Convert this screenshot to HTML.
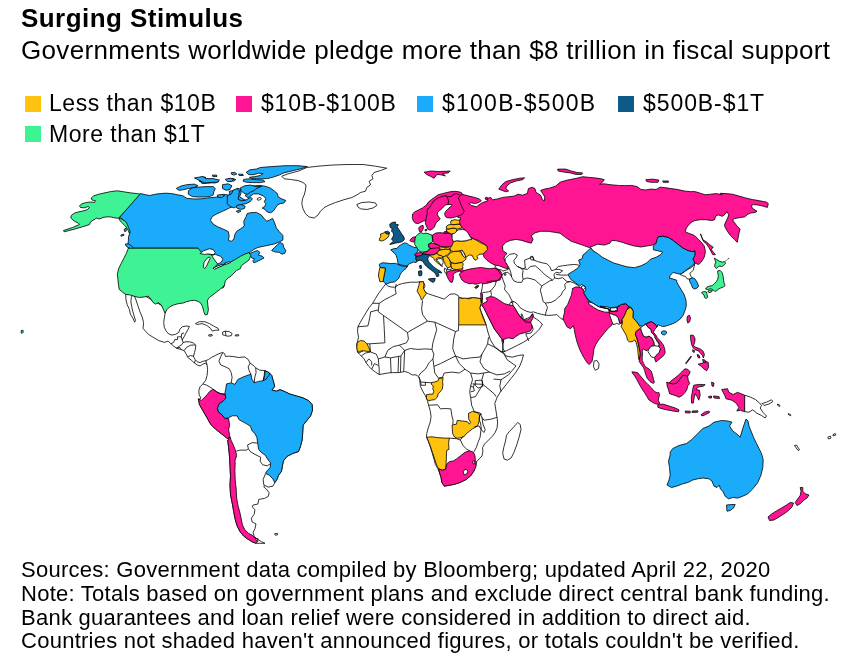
<!DOCTYPE html>
<html><head><meta charset="utf-8">
<style>
html,body{margin:0;padding:0;background:#fff;}
body{width:852px;height:663px;position:relative;overflow:hidden;font-family:"Liberation Sans",Arial,Helvetica,sans-serif;color:#000;}
.t{position:absolute;white-space:nowrap;left:21px;}
#title{top:3.5px;font-size:26px;letter-spacing:0.45px;font-weight:bold;line-height:28px;}
#sub{top:35.5px;font-size:26px;letter-spacing:0.32px;line-height:28px;}
.lg{position:absolute;white-space:nowrap;font-size:23px;line-height:26px;}
.sw{position:absolute;width:16px;height:16px;}
.ft{position:absolute;left:21px;white-space:nowrap;font-size:22px;line-height:24px;letter-spacing:0.26px;}
#map{position:absolute;left:0;top:0;}
</style></head><body>
<div class="t" id="title">Surging Stimulus</div>
<div class="t" id="sub">Governments worldwide pledge more than $8 trillion in fiscal support</div>

<div class="sw" style="left:25px;top:96px;background:#ffc20f"></div><div class="lg" id="l1" style="letter-spacing:0.53px;left:49px;top:90px">Less than $10B</div>
<div class="sw" style="left:236px;top:96px;background:#ff1493"></div><div class="lg" id="l2" style="letter-spacing:0.78px;left:261px;top:90px">$10B-$100B</div>
<div class="sw" style="left:417px;top:96px;background:#1aabfa"></div><div class="lg" id="l3" style="letter-spacing:1.25px;left:442px;top:90px">$100B-$500B</div>
<div class="sw" style="left:618px;top:96px;background:#0e5a87"></div><div class="lg" id="l4" style="letter-spacing:0.92px;left:643px;top:90px">$500B-$1T</div>
<div class="sw" style="left:25px;top:126px;background:#3df394"></div><div class="lg" id="l5" style="letter-spacing:0.51px;left:49px;top:121px">More than $1T</div>

<svg id="map" width="852" height="663" viewBox="0 0 852 663">
<!--MAP--><g stroke="#000" stroke-width="0.8" stroke-linejoin="round">
<path fill="#ffffff" d="M494.7,265.1L496,267.9L497.9,269.8L491.3,274.5L483.6,282L482.6,283.4L482.2,287.8L481.2,292.7L481.9,302.7L483.1,303.5L481.7,305L484.1,308.4L486.1,312.4L488.5,317.3L490.5,321.2L492.5,325.1L494.4,329L497.4,332.9L500.3,336.9L502.7,339.8L503.7,342.7L501.7,339.5L502.6,344.2L503,348L502.2,351.8L506.4,350.8L512,348L517.7,345.2L523.3,342.3L529,338.6L534.7,333.9L539.4,329.2L542.2,324.4L542.5,324.6L539.5,321.2L536.6,319.2L533.6,317.3L532.6,313.8L529.7,317.3L523.8,319.7L522.4,319.2L521.4,317.3L521.1,314.3L521.9,313.8L522.8,316.3L523.3,318.7L519.9,316.3L517.9,313.3L515,308.4L513,305.5L512.5,303L511.1,302.1L512.1,301.1L515,302.1L517.9,304.5L519.9,307.5L522.8,309.4L526.8,311.4L530.7,312.4L533.6,311.9L537.5,313.3L541.5,314.3L545,315.1L545.3,315.3L551.1,315.3L556.8,314.6L559.7,317.4L562.6,319.6L571.2,317.4L582.6,300.2L588.4,283L591.2,268.7L597,257.2L590.8,247.9L585.1,238.6L555.7,227.2L533.1,229.1L525.5,236.6L504.8,238.5L499.2,247.9L499.2,259.2L495.4,263Z"/>
<path fill="#ffffff" d="M385.8,283.9L387.7,285.9L390.5,286.9L394.5,287.3L398.4,284.8L402.4,283.5L410.3,282.2L416.9,282.2L420.7,281.6L423.9,282.9L425,286.3L423.5,289.1L425.4,292.3L428.2,293.8L432.9,295.4L438.6,297.2L444.2,299.1L447.1,296.7L449.9,294.2L454.6,293.8L458.4,295.7L459.3,297.6L465,298.7L472.5,297.6L480.6,298.6L481.2,303.3L479.7,308L481.5,312.7L483.8,318.3L486.1,324.8L487.6,331L490.4,339.8L494.2,346.1L499.8,350.8L503,352.2L506,356L512.2,357.2L518.5,355.5L523.5,354.8L522.2,359.8L519.8,366L516,372.2L511,378.5L506,384.8L501,391L497.2,397.2L494.8,403.5L496,411L497.2,418.5L497.6,422.1L497.1,427.8L495.2,432.5L492.3,436.3L488.6,440L484.8,443.8L482.5,447.6L482.9,451.3L482,456L479.2,458.9L476.3,462.1L475.8,466.4L473.9,471.1L470.7,475.8L466,479.6L460.3,482.4L454.7,484.3L449,485.3L444.3,486.2L441.8,482.4L441.1,477.7L439.6,473L437.7,468.3L435.4,464.5L433.9,458.9L432,452.3L430.2,446.6L428.3,441L426.4,437.2L426.8,433.4L428.3,427.8L430.2,422.1L431.1,416.5L430.2,410.8L428.6,405.2L427.3,400.4L425.4,395.7L422.6,391L420.4,386.3L419.8,380.7L420.1,380.5L418.8,376.8L416,374.9L412.2,374.9L408.4,372.6L404.7,371.5L399,372.6L392.4,372.6L387.7,373L383,373.9L379.2,374.5L375.4,372.1L371.7,369.2L368.8,366.4L366,362.6L364.1,358.9L361.3,356L358.5,353.2L357.2,349.4L356.6,344.7L357.5,341.9L358.5,337.2L357.5,331.5L357.9,326.8L360.4,322.1L363.2,317.4L366,312.7L368.8,308L372.6,303.3L375.4,298.6L378.3,293.8L381.1,290.1L383.9,286.3Z"/>
<path fill="#ffffff" d="M138.8,292.5L125.7,294.3L126,300L127.2,304.7L129.4,309.4L130.4,314.1L133.2,318.8L134.7,322.2L135.5,320.4L134.1,316L132.8,311.3L131.7,306.6L130.9,301.9L131.3,297.2L132.3,295.3L134.1,295.3L136,300L137.9,305.7L139.8,311.3L142.2,317L143.6,322.6L143,328.3L145.4,331.1L149.2,334.9L153.9,337.7L158.6,340.5L164.3,342.4L168.1,341.1L170.9,343.7L173.7,346.2L176.5,348.1L180.3,349.4L184.1,350.5L186,353.7L187.8,357.5L191.6,360.3L194.4,363.1L197.3,365L200.1,366L202.9,364.1L205.8,363.1L207.1,365L208.6,362.2L205.8,360.7L202.9,361.3L200.1,362.6L197.3,361.8L195,359.4L193.5,356.5L194.4,352.8L195.4,349L195.8,345.2L193.5,343L189.7,341.8L186,341.8L183.1,342.4L182.2,340L184.1,336.8L186,333L188.2,329.2L189.4,326.4L186,326L182.2,326.8L179.9,329.2L178.8,332.4L175.6,334.3L171.8,335.1L168.6,333.9L166.2,331.1L164.3,327.3L163.7,322.6L164.3,317.9L165.2,313.2L165.2,307.5Z"/>
<path fill="#3df394" d="M141.2,194.2L136.2,193.5L130,192.8L123.8,191.8L117.5,190.8L111.2,191.5L105,192.8L98.8,194.2L93.8,195.8L91.2,198L92,200L95.5,200.8L94.5,202.5L90.5,202L86.2,202.5L82,203.8L79.5,205.8L80.5,207.5L84.5,207.8L88,206.5L89.5,207.5L87.5,209.5L83.8,210.8L78.8,211.8L74.2,213.2L71.2,215.5L70.8,218L73,220L75,221.5L78.5,223.2L79.5,224.5L72.5,227.5L63.5,230.5L64.2,231.8L75,229L85,226L89.5,224.5L90.5,222L93,220.2L95.2,219.2L96.2,218L99.5,219L103,217.5L107,216.8L111.2,217L115,218L118.8,218.2L122.5,219.5L126.2,221.2L128.8,224.5L130.5,228.8L131,232.5L129.2,233L128,230L126.2,227L123.8,224.5L121.2,222L119.5,220L118.8,218.2Z"/>
<path fill="#1aabfa" d="M140.5,193.6L145.2,194.7L149.9,195.5L154.7,194.3L160.3,193.6L166,193.2L171.6,193.6L177.3,194.7L182.9,195.8L186.7,198.3L194.2,199L201.8,198.8L201.9,198.8L207.5,197.9L215.1,197.3L219.8,196.2L223.6,194.3L228.3,195.1L231.7,193.2L234.9,190.2L237.7,188.3L240.5,189.2L241.1,193L239.6,196.8L242.4,198.6L246.2,200.5L243.7,202.6L238.6,203.7L233.9,205.8L228.3,208.6L222.6,211.3L217,213.7L212.3,216.5L210.4,220.3L213.2,224.1L217.9,226.9L222.6,228.8L228.3,231.6L229.2,236.3L228.3,240.1L231.1,241.4L233.9,239.2L234.9,234.4L236.8,231.2L240.5,228.8L244.3,226L243.7,221.3L246.2,216.5L247.1,213.7L249.9,212.8L256.5,212.4L261.3,215L264.1,218.4L266.9,221.3L269.7,219.9L272.6,218.4L274.4,222.2L276.3,227.8L279.2,231.6L282.9,235.4L282.9,240.1L279.2,242L274.4,243.9L268.8,245.2L263.1,246.3L257.5,247.6L253.7,249.5L249.9,252.3L247.1,254.2L250.5,253.3L254.7,251.4L257.5,250.5L259.9,252.3L258.4,255.2L262.2,256.1L264.1,258L260.3,259.9L256.5,261.8L253.7,262.7L252.8,260.8L254.7,258.9L251.8,258L249.9,255.2L245.2,257.1L240.5,258.9L235.8,260.8L230.2,262.7L225.4,263.7L220.7,265.5L216,267.4L213.2,268.4L211.3,265.5L207.5,263.7L203.8,261.8L200,259.9L198,248.2L128.3,248.2L127.9,245L128.3,241.3L128.6,236.5L130.2,231.8L128.3,227.1L126.4,222.4L119.8,217.1Z"/>
<path fill="#1aabfa" d="M125.4,244.1L128.3,243.7L131.1,245.6L133.5,247.8L132,249.4L128.6,247.8L126,246Z"/>
<path fill="#3df394" d="M128.3,248.2L198,248.2L201.8,252.6L208.4,253.9L213.1,255.4L217.8,263.9L213.1,268.6L220.6,266.3L230,262.4L235.7,259.2L240.4,256.3L244.2,254.4L248.9,252.6L250.8,255.4L249.8,258.2L248.9,260.1L245.1,262.9L241.3,265.8L240.4,268.6L236.6,270.5L233.8,273.3L231,276.1L228.2,278L225.3,280.8L224.4,285.5L222.5,288.4L224.4,285.5L223.4,286.2L220.6,289L216.8,291.8L213.1,294.7L209.3,297.5L207.4,300.3L207.8,305L208.4,309.7L207.4,314.4L205.2,315L203.7,311.6L202.7,306.9L200.8,303.1L198,301.3L194.2,300.3L190.5,300.7L186.3,301.8L182.9,303.1L178.2,303.7L173.5,305L169.7,306.9L166.9,309.7L165,313.1L163.1,308.8L161.3,305L158.4,302.6L155.6,304.1L152.8,302.2L150.5,298.4L148.1,296.2L144.3,296.9L139.6,297.5L134.9,296.5L130.2,295L125.4,294.3L122.2,291.8L119.2,289.4L118.5,285.2L117.9,279.6L117.3,273.9L118.8,268.3L121.1,263.6L123.6,258.8L126.4,253.2L128.3,248.3Z"/>
<path fill="#ffffff" d="M199.9,253.5L203.7,250.7L209.3,248.8L213.1,249.4L215.3,252.6L213.1,254.8L208.4,253.9L204.6,254.4Z"/>
<path fill="#ffffff" d="M203.3,267.1L204,262.5L206.5,258.8L209.3,256.9L210.3,258.2L208.4,262L206.5,266.3L204.6,268.6Z"/>
<path fill="#ffffff" d="M211.6,255.4L215.3,254.4L220.6,256.3L222.9,259.2L221,262.5L217.8,264.1L215.3,261L213.5,258.2Z"/>
<path fill="#ffffff" d="M213.1,268.2L217.8,265.9L222.5,264.2L223.4,265.2L219.1,267.1L214.6,269.3Z"/>
<path fill="#ffffff" d="M224.4,263.3L229.1,261.6L230.4,262.5L226.3,264.2Z"/>
<path fill="#1aabfa" d="M176.3,188.5L181,186L186.7,184.7L194.2,184.1L198,185.7L194.2,187.5L188.6,188.5L182.9,189.8L179.2,190.4Z"/>
<path fill="#1aabfa" d="M188.6,190.4L192.3,187.9L198,187.2L205.5,186.6L213.1,186.6L215.3,188.5L214,191.3L213.1,195.1L209.3,196.6L203.7,197L198,197L192.3,196.6L188.2,194.1Z"/>
<path fill="#1aabfa" d="M198.9,180.9L205.5,180L213.1,180.9L211.2,182.8L203.7,183.4Z"/>
<path fill="#1aabfa" d="M222.5,184.7L228.2,183.8L231.9,185.7L230,189.4L226.3,190.4L222.5,188.5Z"/>
<path fill="#1aabfa" d="M229.1,191.3L233.8,190.4L237.6,192.3L236.6,196L233.8,198.8L231,197.9L230,194.7Z"/>
<path fill="#1aabfa" d="M246.2,172.3L249.9,169.8L256.5,169L260.3,167.5L271.6,166.6L284.8,165.7L298,165.7L307.4,166.6L301.8,168.5L294.2,170.4L288.6,171.7L282.9,173.2L279.2,175.1L273.5,177L267.8,178.5L262.2,178.8L256.5,178.8L251.8,178.5L249.4,177.3L254.7,176.6L260.3,175.5L263.1,173.6L258.4,173.2L253.7,174.7L249,174.7Z"/>
<path fill="#1aabfa" d="M243.7,179.4L249,178.8L256.5,179.6L263.1,180L265,181.7L260.3,182.6L252.8,182.6L246.2,182.2L243,181.1Z"/>
<path fill="#1aabfa" d="M241.5,188.3L246.2,186.4L252.8,186L260.3,185.4L266,186.4L270.7,188.3L274.4,191.1L277.3,193.5L278.2,196.8L281,198.6L285.8,200.5L283.9,203L280.1,203.7L277.3,205.2L275.4,208.1L273.5,210.9L270.7,212.8L266.9,211.8L265,209.4L262.2,208.1L265,206.2L266,203.7L264.1,201.8L266,198.6L263.1,195.8L258.4,193.9L253.7,193.9L250.9,195.8L248.1,197.7L245.2,195.8L247.1,193L244.3,191.1Z"/>
<path fill="#1aabfa" d="M235.8,205.2L240.5,204.3L245.2,206.2L244.3,208.6L240.5,209.4L236.8,208.1Z"/>
<path fill="#1aabfa" d="M231.1,172.8L234.9,172.4L236.8,174.1L233.9,175.1L231.7,174.3Z"/>
<path fill="#1aabfa" d="M238.6,174.1L243,174.3L243.3,175.5L239.2,175.5Z"/>
<path fill="#1aabfa" d="M228.3,179.2L233,178.5L235.8,179.6L233.9,181.1L229.2,181.1Z"/>
<path fill="#1aabfa" d="M212.3,175.1L216.6,175.1L217,176.6L212.8,176.6Z"/>
<path fill="#1aabfa" d="M200,177.3L205.3,177L205.7,178.8L200.9,179.2Z"/>
<path fill="#1aabfa" d="M200,180.4L207.5,179.8L215.1,180.4L218.8,181.5L215.1,183L207.5,182.6L201.9,183.4Z"/>
<path fill="#1aabfa" d="M271.6,250.5L274.4,247.6L277.3,244.8L280.1,242.5L282.9,243.9L283.9,247.6L285.8,250.5L284.8,253.3L282,254.2L279.2,252.3L275.4,252Z"/>
<path fill="#ffffff" d="M281.8,176.2L288,173.8L298,171.2L306.8,167.5L318,166.2L333,165L348,164.5L363,164.5L375.5,166.2L386.8,168.2L380.5,170.5L374.2,172.5L371.8,175.5L373,178.8L369.2,181.2L370.5,185L366.8,187.5L365.5,191.2L360.5,192.5L356.8,195L351.8,197.5L343,200L335.5,202.5L329.2,205L324.2,207.5L320.5,211.2L318,215L314.2,218L309.2,217L305.5,213.8L303,208.8L301.8,203.8L302.5,198.8L304.2,195L305.5,190L306,185L303,182.5L298,180.5L290.5,179.5L284.2,178.8Z"/>
<path fill="#ffffff" d="M356.8,204.5L361.8,202.5L369.2,202L375.5,203L376.8,205.5L373,208L366.8,209.5L360.5,208.8L358,207Z"/>
<path fill="#3df394" d="M21.3,330.5L23,330.3L23.3,332L22,333.5L21.2,333Z"/>
<path fill="none" d="M170.9,343.7L173.7,342.4L174.7,339.6L177.5,339.6L177.5,336.8L181.3,336.8L182.2,340"/>
<path fill="none" d="M181.3,336.8L181.8,333.5L184.1,333"/>
<path fill="none" d="M176.5,348.1L179.4,346.2L182.2,344.3L183.1,342.4"/>
<path fill="none" d="M176.5,348.1L179.9,347.5L181.3,349.4"/>
<path fill="none" d="M184.1,350.5L186.9,347.1L190.7,345.2L195.4,344.9"/>
<path fill="none" d="M187.8,356.5L190.7,355.6L193.9,356.2"/>
<path fill="none" d="M194.4,363.1L195.4,359.9"/>
<path fill="#ffffff" d="M195.4,323.6L199.2,321.7L204.8,321.7L209.5,323.6L214.2,326.4L218,328.3L218.9,330.2L215.2,330.2L212.3,331.1L210.5,328.3L206.7,325.4L202,323.6L197.3,324.5Z"/>
<path fill="#ffffff" d="M222.7,332L225.5,331.1L229.3,331.7L232.1,333.5L231.2,335.8L227.4,336.2L224.6,335.4L222.7,334.9Z"/>
<path fill="none" d="M225.5,331.1L225.9,335.8"/>
<path fill="#ffffff" d="M208.6,334.9L212,334.5L212.3,335.8L209,336.2Z"/>
<path fill="#ffffff" d="M235.3,334.9L238.7,334.7L238.7,335.8L235.3,336Z"/>
<path fill="#ffffff" d="M207.1,365L205.8,360.7L208.6,359.4L211.4,357.5L215.2,355.6L218.9,353.7L222.7,352.4L224.6,353.7L225.5,356.5L228.4,356.2L233.1,356.5L238.7,357.5L244.4,356.9L248.2,359.4L250,363.1L252.9,365L255.7,367.8L259.5,370.1L265.1,370.7L268.9,372.6L271.7,375.4L273.2,380.7L274.7,386.3L271.9,390.1L276.4,391.2L280,389.7L284.2,391.3L289.9,394.1L296.5,396L303.1,397.9L308.7,400.7L312.1,404.5L312.5,410.2L310.6,415.8L306.8,420.5L303.1,425.2L302.7,432.8L302.1,440.3L300.3,446.9L298.4,451.6L292.7,453.5L287.1,456.3L283.3,461L282.3,466.7L281.4,471.4L278.6,475.2L276.7,479.9L274.8,482.7L272.9,486.2L268.2,487.1L264.4,485.2L263.9,487.1L266.3,489L269.2,492.8L268.2,496.5L264.4,498.4L258.8,499.4L257.8,504.1L253.1,505L252.2,506.9L255,509.7L254.1,514.4L251.3,518.2L252.2,522L256,523.9L255,528.6L253.1,532.3L254.1,536.1L256.9,538.9L261.6,541.8L265,543.3L256,543.3L252.2,541.8L247.5,538.9L243.7,536.1L239.9,531.4L237.1,525.8L235.2,519.2L233.7,511.6L232.4,504.1L230.5,494.7L230,485.2L230.5,475.8L230,466.4L229.6,457L228.6,447.5L227.7,440L228.6,439.4L224.9,436.5L220.2,432.8L215.4,429L210.7,424.3L207,417.7L203.2,411.1L199.4,404.5L198.5,398.8L198.2,399.9L201,398L199.2,395.2L198.8,390.5L200.1,386.7L202.9,383.9L205.8,380.1L207.1,375.4L207.6,369.7Z"/>
<path fill="#1aabfa" d="M226.5,383.9L231.2,382.9L235,384.4L237.8,379.5L242.5,377.3L248.2,375L251,374.4L251.9,379.2L254.2,382.9L258.5,381.4L263.2,380.7L264.7,375.4L265.1,370.7L268.9,372.6L271.7,375.4L273.2,380.7L274.7,386.3L271.9,390.1L276.4,391.2L280,389.7L284.2,391.3L289.9,394.1L296.5,396L303.1,397.9L308.7,400.7L312.1,404.5L312.5,410.2L310.6,415.8L306.8,420.5L303.1,425.2L302.7,432.8L302.1,440.3L300.3,446.9L298.4,451.6L292.7,453.5L287.1,456.3L283.3,461L282.3,466.7L281.4,471.4L278.6,475.2L276.7,479.9L274.8,482.7L272.9,478.9L269.2,475.2L265.4,473.3L267.3,470.5L270.1,467.6L270.7,462.9L268.2,460.1L265.4,455.4L261.6,452.6L258.8,449.7L257.8,444.1L256.9,437.5L255,433.7L252.2,430.9L250.3,426.2L246.5,423.7L242.8,421.8L239,419.6L237.1,415.8L232.4,415.8L228.6,417.7L224.9,418.6L222,414.9L218.3,412L217.3,408.3L219.2,403.6L223.9,400.4L225.8,397.9L224.9,393.2L225.8,388.5Z"/>
<path fill="none" d="M263.2,380.7L266.1,379.2L268.9,375.4L269.8,372.6"/>
<path fill="#ff1493" d="M198.5,398.8L199.4,404.5L203.2,411.1L207,417.7L210.7,424.3L215.4,429L220.2,432.8L224.9,436.5L228.6,439.4L229.6,434.7L228.6,429.9L229.6,425.2L228.6,418.6L224.9,418.6L222,414.9L218.3,412L217.3,408.3L219.2,403.6L223.9,400.4L225.8,397.9L224.9,394.1L220.2,393.6L216.4,391.7L213,389.4L209.8,391.3L207,394.7L204.1,397.9L201.3,400.4Z"/>
<path fill="#ff1493" d="M228.6,439.4L230,436.5L231.1,440.3L233.3,445L235.2,449.7L236.7,455.4L234.9,461L235.2,462.6L234.9,470.2L235.2,479.6L236.2,489L236.7,498.4L238.1,506L239.9,512.6L241.3,519.2L242.4,524.8L244.7,529.5L248.4,533.3L252.2,535.2L255,538L257.5,541.8L256,543.3L252.2,541.8L247.5,538.9L243.7,536.1L239.9,531.4L237.1,525.8L235.2,519.2L233.7,511.6L232.4,504.1L230.5,494.7L230,485.2L230.5,475.8L230,466.4L229.6,457L228.6,447.5L227.7,440Z"/>
<path fill="none" d="M222.7,352.8L220.8,356.5L218.9,361.3L220.8,365L225.5,366.9L229.3,368.8L231.2,372.6L232.1,377.3L231.2,382.9"/>
<path fill="none" d="M250,363.1L248.2,366.9L249.1,370.7L251,374.4"/>
<path fill="none" d="M255.7,367.8L256.1,372.6L254.8,377.3L254.2,382.9"/>
<path fill="none" d="M264.7,370.7L264.2,375.4L263.2,380.7"/>
<path fill="none" d="M202.9,383.9L206.7,385.2L210.8,387.6L212.9,389"/>
<path fill="none" d="M212.9,389L218,392.7L222.7,394.2L224.8,394.2"/>
<path fill="none" d="M236.2,451.2L239.9,450.1L246.5,450.1L248.4,448.8L247.5,445L252.2,442.6L257.5,443.1"/>
<path fill="none" d="M248.4,448.8L250.3,451.6L255,454.4L260.7,457.3L260.1,461L262.6,464.8L267.3,465.8L270.1,463.9"/>
<path fill="none" d="M265.4,473.9L263.1,479.6L263.9,485.2"/>
<path fill="none" d="M257.5,541.8L258.2,538.9L255,538"/>
<path fill="#ffffff" d="M274.8,533.7L277.3,533.3L277.6,534.8L275.2,535.2Z"/>
<path fill="#0e5a87" d="M389.7,224.3L392.2,222.4L395.6,222.1L395.1,224L398.5,224.8L397.1,226.8L399,229.7L401.5,233.6L403.9,237.1L404.4,239.5L402.5,241.5L399.5,242.5L396.1,242.9L392.6,243.9L389.7,244.4L391.9,242.5L393.6,241L391.5,239.3L392.5,237.4L393.8,235.1L393.1,232.8L391.5,231.2L392.2,228.7L390.2,227.3Z"/>
<path fill="#ffc20f" d="M379.4,239L380.9,236.1L380.4,234.1L383.3,233.1L384.8,232.2L386.3,233.6L389.2,233.6L388.7,236.1L387.3,238L384.3,240L381.9,241L379.4,240.5Z"/>
<path fill="#0e5a87" d="M384.8,231.9L387.7,231.2L389.7,232.6L389.2,233.8L386.3,233.8Z"/>
<path fill="#1aabfa" d="M390.7,249.8L393.6,248.8L397.1,248.3L398.5,246.4L401.5,244.4L404.4,242.9L406.9,243.4L408.8,244.9L411.8,246.4L414.2,247.4L417.5,247.7L418.1,251L416.7,252.8L414.7,254.7L416.2,256.2L415.7,258.1L416.7,260.6L416.2,262.5L413.7,262.1L411.3,263L408.8,264L407.4,266L404.4,265.5L401,265L398,264L397.7,261.1L397.1,258.1L396.1,255.2L394.1,252.7L392.2,251.3Z"/>
<path fill="#1aabfa" d="M379.3,264.3L382.3,262.8L386.2,263L390.6,263.6L395.5,263.3L397.5,264.3L401.4,265.8L405.3,266.6L407.7,266L406.3,268.2L403.8,270.2L401.4,272.6L399.9,275.1L398.9,278L396.5,280.5L394.5,282L391.1,282.3L388.1,283.4L386.2,284.2L384.7,282.9L383.2,281.5L383.7,277.5L384.7,272.6L385.5,268.2L381.8,267.7L379.8,266.8Z"/>
<path fill="#ffc20f" d="M379.8,267.7L381.8,267.7L385.5,268.2L384.7,272.6L383.7,277.5L383.2,281.5L379.8,281.7L379.3,279L378.3,276.1L379,271.7Z"/>
<path fill="#ff1493" d="M409.8,240.5L411.8,238L413.7,237.1L415.7,236.8L415.2,239L414.7,241.5L413.2,242L411.3,241.5Z"/>
<path fill="#3df394" d="M415.7,236.6L418.1,234.1L420.6,232.6L423.5,233.6L426,233.1L429.4,234.1L431.9,235.1L432.4,238L432.8,241L431.4,242.9L428.9,243.9L428.4,246.4L429.9,248.3L428.4,250.8L426,251.8L422.1,252.1L419.6,251.5L418.1,249.3L416.7,247.4L414.7,244.4L414.7,241L415.2,238.5Z"/>
<path fill="#ff1493" d="M418.6,228.2L420.1,226.3L423,225.3L423.5,227.7L422.5,230.2L421.1,232.2L419.6,231.7Z"/>
<path fill="#ff1493" d="M425,229.7L427,229.2L426.8,230.7L425.2,230.9Z"/>
<path fill="#ff1493" d="M432.4,235.1L435.8,233.1L439.7,232.6L443.6,233.1L448,233.1L452,234.4L452.5,238L453.4,241.5L453.9,243.9L451.5,246.2L447.5,246.9L443.6,246.4L440.7,246.6L438.7,245.2L434.8,243.7L432.8,241Z"/>
<path fill="#ff1493" d="M428.4,244.4L431.4,243.2L434.8,243.9L438.7,245.4L440.7,246.9L438.2,248.3L434.8,249.3L431.9,248.8L429.4,247.8Z"/>
<path fill="#ff1493" d="M422.4,253.1L424.5,252.2L427.5,251.6L428.7,250.1L429.9,248.6L432.9,248.3L435.9,248L438.3,247.7L440.2,248.6L439.6,250.4L437.7,251.6L436.5,253.4L434.1,254.7L431.1,255L428.1,254.7L425.1,254.3L423,254Z"/>
<path fill="#ff1493" d="M414.8,254.7L416,253.4L418.4,252.8L420.9,252.5L422.4,253.1L423,254L421.8,255L419.7,255.9L417.2,256.2L415.4,255.9Z"/>
<path fill="#ffc20f" d="M438.3,247.7L440.2,246.8L442.6,247.4L445,247.7L447.4,247.4L449.8,248L449.2,249.5L448.6,249.7L446.2,249.2L443.8,249.5L441.4,249.8L440.2,248.7Z"/>
<path fill="#ffc20f" d="M437.7,251.6L439.6,250.4L441.4,249.8L443.8,249.5L446.2,249.2L448.9,249.5L450.5,250.5L449.9,252.5L448.3,254.3L446.2,255.6L444.4,256.5L442.9,257.1L441.4,255.7L439,255.3L437.7,254L436.8,253.4Z"/>
<path fill="#ffc20f" d="M429.9,255.6L431.1,255L434.1,254.7L436.5,253.4L437.7,254L439,255.3L441.4,255.6L442.6,256.8L442.9,258L441.4,258L439.6,257.7L437.4,258L435.9,259.2L436.8,260.4L438.3,261.9L440.2,263.7L441.7,265.2L442.6,266.4L441.4,266.1L439.6,264.6L437.7,263.1L435.9,261.6L434.4,260.1L433.8,258.6L432.9,257.4L431.1,256.8Z"/>
<path fill="#ffffff" d="M436.8,259.5L438.3,258.9L440.2,258.6L442,258.9L442.9,260.4L443.2,262.5L442.6,264.3L441.4,265.2L440.2,263.7L438.3,261.9L437.1,260.7Z"/>
<path fill="#ffc20f" d="M442.9,257.1L444.4,256.5L446.2,255.7L447.7,257.1L449.2,258.9L450.1,261.3L450.4,263.7L451,266.1L451.6,268.5L450.4,269.1L449.2,268.8L447.4,267.9L446.2,266.1L445,264.3L444.7,262.5L443.5,260.7L443.2,258.9Z"/>
<path fill="#ffc20f" d="M447.2,256.4L450.1,252.9L453.5,251.5L458.4,251L461.4,252.5L462.8,255.9L464.8,257.4L466.3,258.8L464.3,260.8L462.4,262.1L458.4,263L454.5,263.5L451.1,262.5L449.6,259.8Z"/>
<path fill="#ffc20f" d="M451.1,262.7L454.5,263.7L458.4,263.2L462.4,262.3L463.3,264.2L462.4,266.7L463.3,268.1L460.4,269.1L456.5,269.6L453,269.1L451.1,267.2Z"/>
<path fill="#ffffff" d="M460.4,250.7L461.9,250L463.8,252.5L465.3,255.4L465.8,257.4L464.5,257.2L462.8,255.6L461.4,252.5Z"/>
<path fill="#ffc20f" d="M450.1,248.5L452.1,245.1L453.5,241.7L456.5,240.7L461.4,241.2L466.3,240.7L469.2,239.7L473.1,238.2L477.1,240.7L481,243.1L484.9,244.6L488.8,247.1L488.8,251L485.9,253.4L482.9,253.9L479,254.4L477.1,256.4L478,258.3L476.1,260.3L474.1,259.3L473.1,257.4L472.2,255.4L469.2,254.9L467.3,256.4L465.8,257.4L465.3,255.4L463.8,252.5L461.9,250L460.4,250.7L458.4,251L453.5,251.5L451.1,251Z"/>
<path fill="#ffffff" d="M452.1,234.8L454.5,232.4L458.4,229.9L462.4,229.4L466.8,230.4L469.2,233.8L470.7,236.8L471.7,239.7L469.2,239.7L466.3,240.7L461.4,241.2L456.5,240.7L453.5,241.7L452.1,238.7Z"/>
<path fill="#ffc20f" d="M446.1,229L448,229L451,228.5L453.9,228L456.9,229L456.4,231.5L454.4,233.4L451.5,233.9L449,232.9L446.6,231.5Z"/>
<path fill="#ffc20f" d="M446.6,226.1L449,224.6L452,224.6L454.9,224.6L457.8,224.1L461.8,224.1L462.3,228L459.8,228.5L456.9,229L453.9,228L451,228.5L448,229L446.1,228Z"/>
<path fill="#ffc20f" d="M451,220.7L454.9,219.7L457.8,220.2L461.3,219.7L461.8,224.1L457.8,224.1L454.9,224.6L452,224.6L450.5,223.1Z"/>
<path fill="#0e5a87" d="M415.7,258L416,256.5L417.8,256.2L419.7,255.9L421.8,255L423,254L425.1,254.3L428.1,254.7L429.9,255.6L428.7,256.8L427.8,258.3L428.1,260.4L429.3,262.5L431.1,264.3L433.2,266.4L435.3,268.2L437.7,269.7L439.9,270.9L441.4,272.1L441.7,273L440.2,272.7L439,272.4L438.3,273.3L439,275.2L438,276.7L436.5,276.4L435.9,274.6L435,273L433.2,271.5L431.1,270L429,268.5L426.9,266.7L425.1,264.9L423.9,263.1L422.7,261.3L420.9,260.4L419,260.4L417.2,261.3L416.3,260.1Z"/>
<path fill="#0e5a87" d="M428.3,279L431.8,278.5L435.2,278.3L434.7,281L433.2,282.5L430.3,281Z"/>
<path fill="#0e5a87" d="M418.5,271.2L421.5,270.7L422,273.1L421.5,275.6L419,275.8L418.5,273.6Z"/>
<path fill="#0e5a87" d="M419.5,265.8L421.2,265.3L421.5,268.2L420,268.7Z"/>
<path fill="#ff1493" d="M446.2,274L447.6,271.6L451.1,270.6L454.5,270.3L458.4,269.6L459.4,271.1L456.5,272.1L454.5,273L453,275L453.5,277.5L453,279.9L452.1,282.4L450.1,281.9L448.6,279.4L447.2,276.5Z"/>
<path fill="#ffffff" d="M444.6,268.1L446.7,269.6L446.7,273.6L445.3,273.1L444.3,270.3Z"/>
<path fill="#ffffff" d="M446.7,269.6L448.1,267.7L451,266.7L452.4,268.8L449.6,269.6Z"/>
<path fill="#ff1493" d="M459.4,274L462.4,271.1L467.3,269.6L472.2,268.6L477.1,267.9L480.7,267.5L484.9,268.1L489.1,268.7L491.8,268.5L494.5,268.1L497.6,269.3L500,270.5L501.8,273.5L501.4,277.2L500,280.1L497.6,280.4L493.7,281.4L490.8,282.4L486.9,283.3L483.4,283.8L481,282.8L478,283.8L475.1,284.3L472.2,283.3L469.2,283.8L466.8,282.8L464.3,281.9L461.9,279.9L460.4,277Z"/>
<path fill="#ff1493" d="M459.4,270.3L462.4,269.6L463.8,270.6L462.4,271.9L459.9,271.6Z"/>
<path fill="#4a3800" d="M474.8,287.4L476.3,285.9L478.6,285.5L478.2,287L475.9,288.5Z"/>
<path fill="#ff1493" d="M458.6,193.3L464.3,194.8L469,196.1L474.7,197.4L479.4,198.9L481.3,200.8L478.4,202.7L474.7,203.6L470.9,202.7L468.6,203.6L471.8,205.5L476.5,206.8L478.8,205L482.2,202.7L485,201.8L487.8,200.8L486.9,198.5L490.7,197.4L492.6,199.9L497.3,198.9L502.9,197.4L508.6,196.7L514.2,196.1L518,194.2L522.7,195.2L527.4,193.3L528.4,188.6L532.1,187.2L535,188.6L535.9,192.3L540.6,195.2L542.5,199.9L544.4,200.8L544.8,197L542.5,193.3L540.6,190.4L544.4,189.1L550,188L555.7,186.1L560,182.3L565.7,180.5L571.3,179.3L577,178.2L582.6,176.7L588.3,177.3L593.9,177.8L600.5,178.6L604.3,179.7L602.4,182.3L599.6,184.2L604.3,183.8L610.9,184.8L618.4,185.4L625,185.7L631.6,185.4L637.3,186.7L641,189.5L645.8,189.9L650.5,189.1L656.1,189.5L659.9,187.2L664.6,187.6L671.2,188.6L677.8,189.5L684.4,191L691.9,191.8L692,191.4L695.8,191.8L700.5,193.3L705.2,194.8L710.8,194.2L716.5,193.6L722.2,194.8L720.3,193.3L725.9,193.6L732.5,194.2L739.1,196.1L745.7,198L752.3,199.5L759.8,200.8L766.4,202.1L768.3,203.6L767.4,207.4L762.7,206.1L758,205L753.3,204.6L751.4,205.5L752.3,208.3L757,211.2L755.1,212.5L750.4,213.1L747.6,214.4L744.8,216.8L741,217.4L737.2,218.1L734.4,218.7L732.5,219.7L734.4,222.5L737.2,226.3L740.1,229.1L739.1,232.8L738.2,237.6L737.2,242.3L734.4,239.4L730.6,235.7L727.8,231.9L725.5,228.1L724.4,225.3L725.9,221.5L727.8,217.8L728.8,214.4L726.9,211.7L725,214.4L722.2,216.3L718.4,214.9L715.6,216.3L714.6,219.7L711.8,220.6L706.1,219.7L700.5,219.7L694.8,220.6L691.9,221.9L689.1,224.4L686.3,228.1L685.3,231.9L690,233.8L692.9,234.7L695.7,236.6L698.5,239.4L701.3,242.3L704.2,246L705.5,251.7L704.2,257.3L701.3,262.1L698.5,264.5L694.8,263L692.9,259.2L694.8,255.5L694.8,250.8L692.9,251.7L688.2,250.8L682.5,247.9L677.8,244.2L673.1,240.4L668.4,237.6L662.7,236.2L658,237L657.1,239.4L656.1,243.2L652.3,245.1L646.7,246L641,247L634.4,246L627.8,244.2L622.2,242.3L616.5,240.8L611.8,240.4L609.9,243.2L604.3,245.1L597.7,244.2L593,246L589.2,247.5L582.6,245.1L577,243.2L571.3,241.3L565.7,237.6L560,233.2L555.7,232.5L548.2,231.3L540.6,231.3L535,232.8L531.2,235.7L533.1,239.4L531.2,243.2L526.5,241.9L521.8,240.4L516.1,239.4L510.5,240.4L505.8,242.3L502.5,246L502.9,250.8L507.1,253.6L504.8,255.5L503.9,258.3L505.8,262.1L507.6,265.8L508.6,269L503.9,267.7L499.2,265.8L494.4,264.9L490.7,263L486.9,260.2L484.1,257.3L483.1,254.5L485,252.1L487.5,249.8L486.9,246L483.1,243.2L478.4,240.4L473.7,238.9L469.9,236.6L468.1,232.8L465.2,230L462.4,228.1L460.5,225.3L459.6,222.5L460,219.7L460.5,217.8L457.7,217.2L458.6,214.9L459.6,212.1L458.6,208.7L458.6,204.6L457.7,200.8L458.6,197Z"/>
<path fill="#ff1493" d="M412.7,213.8L414.7,211.9L418.6,209.9L422.5,207.9L426.5,205L428.4,202.1L431.4,199.6L434.8,197.2L438.2,194.7L442.2,193.7L446.1,192.7L450,191.8L453.9,191.3L457.8,191.6L461.3,192.5L462.3,194.2L460.3,195.7L458.3,197.6L459.3,200.1L460.3,203L461.3,205.5L462.7,208.4L464.2,211.4L462.3,214.3L458.8,215.8L454.9,217.1L451,218L447.1,217.7L445.3,216.5L444.6,213.8L445.6,211.4L447.5,209.4L450,207L452,205.7L451.5,204.5L448,204.5L445.1,205L443.9,206.5L442.2,208.4L439.7,210.4L437.7,212.4L437.3,214.8L438.7,216.8L440.2,218.7L438.7,220.7L436.5,222.2L435.3,224.6L434.5,227.1L432.4,229L429.9,230.2L427.9,229L426.3,226.1L425.3,223.1L425.7,221.2L424,220.7L421.1,222.2L418.1,223.6L415.2,223.1L413.2,220.7L412.3,217.3Z"/>
<path fill="none" d="M425.7,221.2L426.3,217.3L427.3,213.3L427,209.4L429.4,207.9L431.4,204.5L433.8,201.1L436.8,198.6L440.2,197.2L443.1,196.2L445.1,195.7L447.5,197.6L448.5,201.1L448,204.5"/>
<path fill="none" d="M445.1,195.7L449,196.7L452,196.2L453.4,194.2L456.4,193.7L458.8,194.7L460.3,195.7"/>
<path fill="#ff1493" d="M498.8,189.1L502,184.8L505.8,181.6L512.3,179.7L519.9,178.2L524.6,177.8L522.7,179.7L516.1,181L510.5,182.9L507.1,185.7L505.8,188.6L508.6,191L505.8,191.8L502,190.4Z"/>
<path fill="#ff1493" d="M424.1,172.2L431.3,171L438.8,171.6L450.2,171L448.3,172.9L442.6,173.5L445.4,175.9L440.7,174.8L437,174.4L434.1,178.2L430.4,176.3L426.6,174.4Z"/>
<path fill="#ff1493" d="M557.7,169.1L565.7,169.1L571.3,171L577,172.5L582.6,172.9L581.7,174.4L576,174.4L570.4,172.9L564.7,172.2L558.1,171Z"/>
<path fill="#ff1493" d="M645.8,179.7L652.3,179.1L658.9,180.1L658,182.3L651.4,182.3L646.7,181.6Z"/>
<path fill="#ff1493" d="M662.7,181L668.4,181L668.4,182.3L663.3,182.3Z"/>
<path fill="#ff1493" d="M703,240L706,241.5L709.4,244.4L713.3,247.4L711.9,248.3L711.4,249.8L713.8,252.7L715.3,254.7L712.8,254.7L710.9,251.3L708.9,247.4L706,243.4L703.5,241.5L701.8,237.6L700.5,233.8Z"/>
<path fill="#ff1493" d="M485,198L486.9,197L487.8,198.9L486,199.9Z"/>
<path fill="#ff1493" d="M443.8,232L446.7,231.1L447.4,233L444.3,233Z"/>
<path fill="#ffc20f" d="M458.7,297.6L462.1,298.4L465,298.1L468.9,298.8L472.8,297.6L476.8,298.1L480.7,298.6L481.2,303.5L479.7,307.9L481.2,312.4L483.6,319.2L486.1,324.9L458.7,324.9Z"/>
<path fill="#ffc20f" d="M419.5,282L423.4,281.5L423.9,284.4L423.4,288.3L424.9,291.3L426.4,293.7L424.4,296.2L422.9,298.6L421.5,300.1L420.5,297.2L419,294.2L417.1,291.3L418,288.3L419,284.9Z"/>
<path fill="#ffc20f" d="M357.2,342.5L360.4,340.6L364.1,341L367,343.8L368.8,347.6L370.4,351.9L367,351.3L363.2,350.8L359.4,351.3L357.5,352.3L356.8,347.6Z"/>
<path fill="#ffc20f" d="M426.5,394.7L429.4,394.2L432.8,394.2L433.8,391.3L432.8,388.8L433.3,385.9L431.4,384.4L431.4,382.5L434.8,382L437.7,381L439.2,378L443.1,377.7L442.6,381.5L442.9,385.4L442.2,389.3L440.2,391.8L438.2,393.7L437.3,397.2L434.8,399.6L431.4,400.1L428.4,400.9L426.5,398.6Z"/>
<path fill="#ffc20f" d="M426.8,437.2L432,436.8L437.7,437.6L444.3,438.1L449.4,438.1L448.6,442.8L449,449.4L446.7,450.4L446.4,456L446.2,462.6L445.6,469.2L442.4,470.2L438.6,468.9L436.8,465.5L434.9,459.8L432.4,452.3L430.2,445.7L428.3,441Z"/>
<path fill="#ff1493" d="M438.6,468.9L442.4,470.2L445.6,469.2L447.1,463.6L449.4,461.7L453.7,460.8L456.5,458.9L460.3,456L465,452.3L469.7,450.8L473.5,452.3L475,456L475.4,460.8L476.3,462.6L475.8,466.4L473.9,471.1L470.7,475.8L466,479.6L460.3,482.4L454.7,484.3L449,485.3L444.3,486.2L441.8,482.4L441.1,477.7L439.6,473Z"/>
<path fill="#ffffff" d="M463.1,471.1L466,469.2L467.8,471.1L466.9,473.9L464.1,474.9Z"/>
<path fill="#ffffff" d="M472.6,461.3L474.4,460.8L475,463.6L473.1,464Z"/>
<path fill="#ffc20f" d="M452.1,424.9L456.5,424.2L457.2,420.4L462.3,421L467.4,421.7L469.4,424.2L470.6,422.3L468.7,419.1L468.5,413.3L472.6,411.4L477.7,412.7L479.6,415.3L479.2,420.4L478.3,424.2L476.4,426.8L472.6,428.7L469.4,431.3L466.2,433.8L464.2,436.4L461,437.7L457.2,438.3L454.6,437.1L452.7,433.8L452.3,429.4Z"/>
<path fill="#ffffff" d="M517.8,422.5L520.2,424.4L521,429.7L519.1,437.2L516.8,444.7L514,452.3L511.2,457.9L507.4,460.2L504,458.9L502.7,453.2L503.7,447.6L505.5,441L506.5,435.3L509.3,431.5L513.1,427.8L515.9,424.4Z"/>
<path fill="none" d="M396.2,284L395.2,289.1L396.2,293.8L390.5,296.7L384.9,299.5L379.2,303.3L378.3,309.9"/>
<path fill="none" d="M378.3,309.9L370.7,311.8L369.8,317.4L368.8,322.1L367.9,325.9L357.9,326.8"/>
<path fill="none" d="M372.6,303.3L379.2,303.3"/>
<path fill="none" d="M378.3,309.9L378.3,311.8L383.5,315.5L407.5,332.5"/>
<path fill="none" d="M383.5,315.5L384.3,329.7L384.9,342.8L369.8,343.8L370.4,351.9"/>
<path fill="none" d="M369.8,343.8L367,343.8"/>
<path fill="none" d="M407.5,332.5L412.2,329.7L427.3,321.2L422.6,314.6L421.6,308.9L422.6,300.4"/>
<path fill="none" d="M427.3,321.2L434.8,322.1L455.5,331.5L458.4,330.6L458.7,324.9"/>
<path fill="none" d="M407.5,332.5L408.4,339.1L406.5,342.8L399.4,345.1L393.3,346.6L387.7,350.4L384.9,357"/>
<path fill="none" d="M434.8,322.1L436.7,329.7L432.9,342.8L432,349.4"/>
<path fill="none" d="M404.7,350.4L410.3,348.5L417.8,349.4L425.4,348.9L432,349.4L433.9,354.2L432.9,358.9L433.9,366.4"/>
<path fill="none" d="M399.4,345.1L404.7,350.4"/>
<path fill="none" d="M455.5,331.5L453.7,339.1L452.7,348.5L455.5,356"/>
<path fill="none" d="M433.9,366.4L440.5,363.6L448,359.8L455.5,356"/>
<path fill="none" d="M432.9,358.9L429.2,362.6L425.4,369.2L420.7,373L418.8,375.8"/>
<path fill="none" d="M404.7,350.4L404.3,357.9L403.7,371.5"/>
<path fill="none" d="M400.9,356L400.5,372.1"/>
<path fill="none" d="M398.6,356.4L398.1,372.4"/>
<path fill="none" d="M390.5,357.9L391.1,373"/>
<path fill="none" d="M384.9,357L390.5,357.9L398.6,356.4L400.9,356L404.7,350.4"/>
<path fill="none" d="M378.3,358.9L379.2,369.2L379.2,374.5"/>
<path fill="none" d="M371.7,369.2L374.5,363.6L378.3,365.5"/>
<path fill="none" d="M366,362.6L368.8,358.9L371.7,361.7L371.7,365.5"/>
<path fill="none" d="M361.3,356L365.1,353.2L370.4,351.9L376.4,354.2L378.3,358.9L384.9,357"/>
<path fill="none" d="M358.5,353.2L363.2,350.8"/>
<path fill="none" d="M455.5,356L463.1,358.9L470.6,357.9L480,357L481.9,354.2L485.7,347.6L487.6,343.8L488.5,337.2"/>
<path fill="none" d="M487.6,343.8L495.1,347.6L502.7,353.2"/>
<path fill="none" d="M481.9,354.2L480,361.7L483.8,368.3L489.5,372.1L497,374.9L504.5,373.9L510,371.1"/>
<path fill="none" d="M455.5,356L459.3,363.6L465,369.2L470.6,373L478.2,373.9L483.8,373L489.5,372.1"/>
<path fill="none" d="M433.9,366.4L434.8,373L438.6,378.3L442.3,377.7L444.2,373L451.8,372.1L459.3,373L465,369.2"/>
<path fill="none" d="M418.8,376.8L420.7,382L431.4,382.8"/>
<path fill="none" d="M420.7,382L421.2,385.3L425.4,385.3L425.4,382"/>
<path fill="none" d="M470.6,373L472.5,379.6L470.6,386.2L469.7,391.8L470.6,397.5"/>
<path fill="none" d="M483.8,373L481.9,379.6L482.9,384.3"/>
<path fill="none" d="M472.5,383.9L482.9,384.3"/>
<path fill="none" d="M475.3,380.5L481.9,380.2L482.9,386.2L478.2,388.1L475.3,385.3L475.3,380.5"/>
<path fill="none" d="M470.6,386.2L473.4,387.1L474.4,383.9"/>
<path fill="none" d="M470.6,391.8L474.4,390.9L473.4,387.1"/>
<path fill="none" d="M503,352.2L507.2,359.8L516,366L508.5,374.8L501,379.8L499.8,386L501,391.5"/>
<path fill="none" d="M501,379.8L493.5,379"/>
<path fill="none" d="M470.7,397.6L471.6,405.2L474.4,411.8L479.2,412.7L482,414.6"/>
<path fill="none" d="M482.9,384.4L494.2,393.8L496.1,396.7"/>
<path fill="none" d="M497.1,417.4L490.5,419.3L483.9,420.2L482,417.4"/>
<path fill="none" d="M480.1,413.6L482,417.4L482.9,424L485.2,429.7L483.9,432.5L481.4,429.7L480.7,424L479.2,419.3L480.1,413.6"/>
<path fill="none" d="M474.4,426.8L479.2,425.9L481,429.7L480.1,437.2L478.2,441.9L476.3,447.6L473.9,451.9"/>
<path fill="none" d="M463.1,436.3L460.3,440L463.1,445.7L466.9,449.4L469.7,450.8"/>
<path fill="none" d="M428.6,405.2L437.7,404.8L440.5,408.9L445.2,408.5L450.9,408.9L451.8,415.5L453.1,420.2L452.8,424.4"/>
<path fill="none" d="M449.4,438.1L456.5,438.7L460.3,440"/>
<path fill="none" d="M470.7,397.6L475.4,396.7L482.9,384.4"/>
<path fill="#ffffff" d="M505.2,258.6L509.5,254.3L514.5,253.6L517.4,255.1L516,257.9L513.8,260.1L514.5,263.7L517.4,266.5L521,268L523.1,270.8L522.4,275.1L523.1,279.4L521.7,282.3L517.4,282.3L513.8,280.9L511.7,277.3L510.9,273L509.5,268.7L507.4,265.1L505.2,261.5Z"/>
<path fill="#ff1493" d="M486.1,298.1L490.5,296.5L494.4,297.2L498.3,299.6L504.2,303.5L509.1,305L513,305.5L515,308.4L517.9,313.3L519.9,316.3L522.4,319.2L523.8,320.2L527.7,319.7L530.2,317.7L532.6,313.8L533.1,315.8L532.6,318.7L530.7,322.2L531.7,325.1L532.2,328L530.2,331L525.8,332.5L519.9,333.9L516,336.4L513,338.8L508.1,337.8L502.7,339.8L500.3,336.9L497.4,332.9L494.4,329L492.5,325.1L490.5,321.2L488.5,317.3L486.1,312.4L484.1,308.4L481.7,305L483.1,303.5L487.5,301.1Z"/>
<path fill="none" d="M523.8,320.2L525.3,322L528.7,322.4L530.7,322.2"/>
<path fill="#ff1493" d="M480.7,293.2L481.9,292.7L482.6,294.7L482.5,299.6L481.9,302.7L480.9,298.6Z"/>
<path fill="#ff1493" d="M572.3,288.6L576.1,286.8L580.8,287.7L583.3,290L584.6,294.3L586.5,298.1L588.9,301.3L593.1,304.7L600.6,307.7L609.1,310.7L610,308.4L611.9,308.4L616.6,307.7L620.4,306.5L623.2,303.7L627,304.7L629.8,307.5L627.9,311.3L624.2,315L622.3,319.7L621.3,323.9L619.5,320.7L618.5,316L615.7,314.5L611.9,313.1L611.5,316.9L612.9,322.6L611.9,325L608.2,328.2L604.4,332.9L599.7,338.6L595.9,344.2L594,348.9L593.1,355.5L592.1,361.2L589.3,364.6L587.4,363.1L583.7,357.4L579.9,349.9L577.1,342.3L575.2,334.8L574.2,329.2L573.3,325.8L570.5,328.8L567.1,326.9L564.8,322.6L562.9,318.8L564.4,313.1L564.8,308.4L567.6,304.7L569.5,299.9L571.4,295.2L572.3,290.5Z"/>
<path fill="#ffffff" d="M588,301.7L593,303.1L598.7,306.7L604.4,308.1L608.7,308.9L609.5,312.4L604.4,312L598.7,310.3L593.7,307.4L589.4,304.6Z"/>
<path fill="#ff1493" d="M608.8,309.6L609.8,311.1L613.7,311.6L617.6,311.1L617.5,309.6L617.2,307.6L621.1,304.7L626,303.7L628.4,306.7L626.5,310.6L624.5,315.5L622.1,319.4L621.1,322.4L620.1,323.8L619.1,321.4L618.1,317.5L615.7,315.5L612.7,314.5L609.3,313Z"/>
<path fill="#ffffff" d="M610.3,308.1L616.2,307.6L617.5,309.6L614.7,311.1L610.8,311.1Z"/>
<path fill="#ffffff" d="M609.3,313L612.7,314.5L615.7,315.5L618.1,317.5L619.1,321.4L620.1,323.8L619.1,324.3L616.7,323.3L613.7,324.8L612.3,322.4L610.8,318.4L609.8,315.5Z"/>
<path fill="#ffffff" d="M594,361.2L596.8,360.3L599.1,364L598.4,368.7L595.3,370.2L593.5,366.8Z"/>
<path fill="#1aabfa" d="M567.9,274.4L573.6,270.9L577.9,268L580.1,264.4L578.6,260.1L582.2,258.7L582.9,255.1L587.2,251.5L590.8,247.9L593,250.8L597.7,253.6L602.4,257.3L608.1,260.2L613.7,263L620.3,264.9L626.9,266.8L634.4,267.7L641,265.8L646.7,263L650.5,259.2L656.1,257.3L660.8,254.5L662.7,252.1L658,250.8L653.3,249.8L653.3,246L656.1,243.2L657.1,239.4L658,237L662.7,236.2L668.4,237.6L673.1,240.4L677.8,244.2L682.5,247.9L688.2,250.8L692.9,251.7L694.8,250.8L694.8,255.5L692.9,259.2L694.8,263L691.9,265.8L688.2,268.7L684.4,271.5L680.6,274.3L676.8,273.4L673.1,272.4L670.3,275.3L669.3,278.1L673.1,279L676.8,280.3L676.5,281.3L678.4,285.1L681.3,289.8L684.1,294.5L686,300.2L686.3,305.8L685,310.5L683.1,315.2L680.3,319L676.5,321.8L672.8,323.7L669,325L665.2,326.2L662.4,326.5L660.5,325.6L657.7,324.7L657.4,326.8L654.9,323.8L651,321.6L646.1,323.8L642.2,326.3L639.2,325.3L636.3,321.4L632.8,317.5L633.3,311.1L631.4,307.5L628.9,306.7L626,303.5L621.1,304.5L616.2,307.2L610.3,307.6L605.9,306.7L600,306.2L608.7,308.9L604.4,308.1L598.7,306.7L593,303.1L588.7,300.3L586.5,297.4L583.7,293.1L585.8,289.5L585.1,286.6L581.5,284.5L579.4,285.9L575.8,283L570.8,279.5Z"/>
<path fill="#1aabfa" d="M661.6,331.7L663.7,330.7L666.2,331.4L666.7,333.1L664.7,334.9L662.3,334.6L661.3,333.1Z"/>
<path fill="#ff1493" d="M687.5,316.2L689.4,315.2L690.5,318.1L689.7,321.8L687.8,323.1L686.9,319.9Z"/>
<path fill="#ffffff" d="M680,274.3L682.5,273.3L684.9,271.4L687.8,269.4L690.8,267.9L693.7,265.5L694.7,263.5L694.2,266.5L693.2,270.4L689.8,273.3L690.8,276.3L692.3,277.7L689.3,279.2L686.9,278.7L685.4,276.3L682.9,275.8Z"/>
<path fill="#1aabfa" d="M689.3,279.2L692.3,277.7L694.7,278.7L697.2,282.2L698.6,286.1L697.2,288L694.7,289L692.7,288L691.3,284.6L689.8,281.7Z"/>
<path fill="#3df394" d="M714.3,258.1L716.8,259.6L719.2,261.1L722.2,262.1L724.6,261.6L725.6,263.5L723.6,265.5L721.7,266.5L719.2,266L717.7,267.5L716.3,268.4L714.8,267L714.8,264.5L715.8,262.1Z"/>
<path fill="#3df394" d="M717.7,270.9L720.2,270.4L722.2,272.8L723.1,276.3L723.6,280.2L724.1,283.1L725.1,285.6L723.1,287.1L720.7,288L718.7,289L716.8,290.5L714.8,291.5L713.3,290L711.4,289L709.4,289L707.5,289.5L705.5,289L707,287.1L709.4,286.1L712.4,285.6L714.3,283.6L716.3,281.7L717.7,279.2L718.4,275.8L717.7,272.8Z"/>
<path fill="#3df394" d="M701.6,292.5L704,291.5L706.5,292L707,294.4L707.5,297.4L706,298.6L704.5,297.4L704,294.9L702.5,293.9Z"/>
<path fill="#3df394" d="M707.9,291L710.4,290L712.4,290.5L711.4,292L708.9,292.7Z"/>
<path fill="#ffc20f" d="M630.9,307.6L633.3,311.6L632.8,317.5L636.3,321.4L639.2,325.3L640.7,327.7L639.2,329.2L636.3,331.2L635.3,334.1L636.8,338L638.2,342.9L639.2,347.8L640.2,352.7L639.7,356.7L638.8,359.5L638.2,354.7L637.7,348.8L636.3,342.9L634.8,340L632.4,341.5L629.4,342L627.5,340L626.5,336.1L624.5,332.2L622.1,328.2L621.1,326.3L622.5,323.3L622.1,319.4L624.5,315.5L626.5,310.6L628.9,308.1Z"/>
<path fill="#ff1493" d="M635.3,334.1L636.3,331.2L639.2,329.2L641.2,330.2L642.2,333.1L643.6,336.1L646.1,337.1L649,336.1L652,338L653.9,342L654.4,344.8L654.4,345.8L651,346.3L648.5,349.7L646.1,350.7L643.1,348.7L642.2,351.2L642.6,353.6L642.2,357.1L642.2,360.5L643.6,363.4L645.1,366.4L647.1,367.8L649.5,369.3L651.5,371.8L652.5,375.2L653.4,379.1L654.4,382.1L653.4,383.5L650,381.6L647.1,378.1L645.6,374.2L644.6,370.3L643.6,367.8L641.2,364.4L639.2,361.5L639.7,358L640.5,354.6L640.2,352.7L639.2,347.8L638.2,342.9L636.8,338Z"/>
<path fill="#ffffff" d="M640.7,327.7L643.1,325.8L646.1,324.3L648,327.3L651,329.2L651.5,332.2L654.9,336.1L656.9,341L659.3,344.4L658.8,346.4L655.9,346.9L654.4,344.9L653.9,342L652,338L649,336.1L646.1,337.1L643.6,336.1L642.2,333.1L641.2,330.2Z"/>
<path fill="#ff1493" d="M646.1,323.8L651,321.6L654.9,323.8L656.9,327.1L654.9,329.2L653.4,332.2L655.9,335.1L657.4,337.9L660.3,340.9L663.2,344.8L664.7,348.7L665.2,352.6L663.7,355.6L660.8,358L658.3,360L655.9,362L654.9,359.5L654.4,357.5L656.9,354.6L659.3,352.2L660.3,348.7L658.8,346.3L659.3,343.8L657.4,340.9L654.9,337.9L654.9,336.1L651.5,332.2L651,329.2L648,327.3Z"/>
<path fill="#ffffff" d="M648.5,349.7L651,346.3L654.4,345.8L658.8,346.3L660.3,348.7L659.3,352.2L656.9,354.6L654.4,357.5L651.5,357.1L649.5,354.1L648,351.7Z"/>
<path fill="#ff1493" d="M690.7,335L693.6,335.5L695.1,338.9L694.6,342.8L693.6,345.3L695.6,347.3L698.5,348.2L701.5,349.7L703.4,351.7L704.4,354.6L703.4,358L702.5,355.6L700.5,353.1L698,350.7L695.1,349.7L693.1,347.7L691.7,344.8L690.9,340.9L690.5,337.5Z"/>
<path fill="#ff1493" d="M698.2,364.2L702,363.3L705.8,361.4L708.2,362.3L708.6,367.1L706.7,370.8L703.9,368.9L701,366.1Z"/>
<path fill="#ff1493" d="M685.6,363.3L690.9,356.1L691.4,356.7L686.2,363.7Z"/>
<path fill="#ff1493" d="M697.1,354.6L699,355.1L700,358L698,357.5Z"/>
<path fill="#ff1493" d="M692.6,349.7L694.6,350.7L694.1,352.6L692.8,351.7Z"/>
<path fill="#ff1493" d="M702.5,359.5L704.9,360L705.9,362.5L703.4,362Z"/>
<path fill="#ff1493" d="M631.9,371.8L634.8,372.1L637.7,372.7L639.7,375.2L642.2,378.1L644.6,381.1L648,384.5L651.5,387.9L654.4,391.4L657.4,392.8L658.8,392.4L659.5,394.8L658.8,397.7L658.3,400.7L659.8,403.1L658.8,404.1L656.4,404.1L652.9,402.6L649,400L647.1,396.8L644.6,392.8L641.7,388.4L639.2,384L636.8,379.6L634.8,376.2L632.8,373.7Z"/>
<path fill="#ff1493" d="M657.8,404.8L662.8,404L669,406L675.2,408L679,409.8L678.5,411.8L672.8,411L666.5,409.8L661,408.5L657.8,407.2Z"/>
<path fill="#ff1493" d="M685.2,411L690.2,411.2L690.2,413L685.5,412.8Z"/>
<path fill="#ff1493" d="M692,411L697.8,410.8L697.8,412.2L692.2,412.5Z"/>
<path fill="#ff1493" d="M701,414.8L704.5,412.2L709,411L709.5,412.5L705.2,414.8L702,416Z"/>
<path fill="#ff1493" d="M666.7,382.1L669.1,383L672.1,380.1L676,377.2L678.9,374.7L681.9,371.8L684.8,368.8L687.7,369.3L690.2,371.8L689.2,374.2L687.7,376.2L688.2,380.1L689.7,383.5L687.7,386L686.8,389.9L684.8,392.8L681.9,395.8L678.9,397.3L676,395.8L673,394.8L669.6,393.8L668.6,389.9L667.2,386Z"/>
<path fill="none" d="M669.1,383L673,384L677,383L679.9,379.1L682.8,375.2L687.7,376.2"/>
<path fill="#ff1493" d="M693.8,385.2L698.8,384.4L705.2,384.7L703.1,386.2L698.1,387L695.9,389.5L699.5,390.2L700.2,395.2L698.8,400.2L697.1,396.6L695.2,393.8L694.2,397.3L693.3,403.1L691.6,403.1L691.3,397.3L692.3,392.3L693,388Z"/>
<path fill="#ff1493" d="M711.5,382.2L714,383L713.5,386.5L712,386Z"/>
<path fill="#ff1493" d="M708.5,396.5L711.5,396L711.5,398L709,398Z"/>
<path fill="#ff1493" d="M713.5,396L719,396.5L719.5,398.5L714,398Z"/>
<path fill="#ff1493" d="M721.7,389.5L727.5,388.7L728.9,392.3L733.2,394.5L737.5,392.3L744.7,395.2L744.7,411.7L740.4,410.3L736.8,411L738.9,407.4L736.1,403.1L731.8,400.2L726,398.8L724.6,395.2Z"/>
<path fill="#ffffff" d="M744.7,395.2L750.4,397.1L755.4,399.5L759.7,403.1L761.5,405.5L760.2,408L762.8,412.2L766.5,416L765.2,418L761.5,415.5L756.5,413L752.8,409.8L749,412.2L744.7,411.7Z"/>
<path fill="#ffffff" d="M762,403.5L766.5,402.2L771.5,399.8L772.8,401.5L769,404L764,405.5Z"/>
<path fill="#ffffff" d="M777.8,404L780.2,405.5L779.5,406.5L777.2,405Z"/>
<path fill="#ffffff" d="M788.5,413.5L791,415L790.5,415.8L788,414.2Z"/>
<path fill="#ffffff" d="M794.5,445.5L796.5,445L799.5,449.8L798,450.5Z"/>
<path fill="#ffffff" d="M827.8,437.2L830.2,436L831,438L828.5,439Z"/>
<path fill="#ffffff" d="M832.8,434.8L835.2,433.5L835.8,435L833.2,435.8Z"/>
<path fill="#1aabfa" d="M670.2,452.2L672.8,448.5L679,445.5L686.5,443.5L691.5,439.8L697.8,433.5L702.8,428.5L709,426L714,422.2L721.5,420.5L727.8,421L732,422.2L729.5,426L732.8,431L737.8,434.8L740.2,437.2L742,431L744,424.8L746,419L748,421L749,426L751,431L753.5,437.2L756.5,443.5L759,448.5L761.5,453.5L763.2,459.8L763.2,460L762.8,467.5L761,475L757.8,482.5L752.8,488.8L747.8,493.8L742.8,496.2L737.8,498L732.8,497.5L728.5,498.8L725.2,496.2L722.8,491.2L720.2,488.8L719.5,485L717,487.5L714,486.2L712,481.2L709,478.8L702.8,478L697.8,478.8L692.8,480L687.8,482.5L682.8,483.8L676.5,486.2L671.5,487.5L667,485L669,480L670.2,475L669.5,467.5L668.5,461.2L670.2,455Z"/>
<path fill="#1aabfa" d="M726.5,505L731.5,504.5L735.2,504.5L733.5,508L730.2,510.5L727,511.2Z"/>
<path fill="#ff1493" d="M800.2,487.5L802.8,487.5L802.8,491.2L805.2,493.8L809,495L807,498L804,500L800.2,503.8L797,505.5L795.2,502.5L797.8,498.8L800.2,495.5L801,491.2Z"/>
<path fill="#ff1493" d="M768,517L769.5,520.5L774,520L779,517L784,513.8L788.5,510.5L792,507L793.5,503L790.2,502.5L786.5,505L781.5,508L776,511.2L771.5,514Z"/>
<path fill="none" d="M517.4,266.5L522.4,268.7L525.3,268L524.6,260.1L530.3,257.9L532.4,256.5L533.9,260.1L537.5,261.5L542.5,262.9L546.8,263.7L549.6,266.5L551.8,270.8L555.4,269.4L558.3,266.5L562.6,265.8L567.6,265.1L574,264.4L579,265.1"/>
<path fill="none" d="M530.3,257.9L531,256.1L533.2,256.9L533.9,260.1L531,259.8L530.3,257.9"/>
<path fill="none" d="M522.4,268.7L527.4,269.4L530.3,266.5L535.3,265.8L541,270.8L545.3,275.1L549.6,278L552.5,280.1"/>
<path fill="none" d="M523.1,279.4L526.7,278L531,278.7L535.3,280.1L538.2,283L541.8,285.9L545.3,283.7L549.6,280.9L552.5,280.1L554.7,278L553.9,274.4L556.1,272.3L559.7,273L562.6,270.8L559,269.4L555.4,269.4"/>
<path fill="none" d="M554.7,278L558.3,278.7L562.6,277.6L566.1,280.9L567.6,281.6L570.4,281.6"/>
<path fill="none" d="M556.1,274.4L561.1,275.1L567.6,275.1"/>
<path fill="none" d="M541.8,285.9L540.3,290.2L541.8,295.9L543.2,301.6L545.3,303.1L551.1,302.4L555.4,300.2L558.3,297.3L561.1,295.2L562.6,291.6L565.4,288.7L564.7,284.4L566.9,282.3L570.4,281.6L574,283L577.6,285.2L579.8,287.3"/>
<path fill="none" d="M501.6,275.8L503.1,280.1L505.2,285.9L504.5,289.5L508.8,294.5L511.7,300.2L513.1,303.1"/>
<path fill="none" d="M545.3,303.1L547.5,307.4L546.1,311.7L545.3,315.3"/>
<path fill="none" d="M501.6,275.8L503.8,273L507.4,272.3L509.5,273.7L511.7,276.6"/>
<path fill="none" d="M486.6,281.9L492.3,280.9L496.6,281.6L499.5,278.7L501.6,275.8"/>
<path fill="none" d="M498,270.1L500.2,273.7L502.3,275.8"/>
<path fill="none" d="M504.2,273.8L505.6,273.5L506.1,275L504.6,275.4L504.2,273.8"/>
<path fill="none" d="M581.2,286.6L583.8,285.6L585.5,287.6L583.8,289.5L581.9,288.7L581.2,286.6"/>
<path fill="#1aabfa" d="M227.3,195.8L231.6,193.7L233.1,190.1L236.7,188.7L239.5,190.8L238.8,195.1L238.1,199.4L241.7,200.8L246,200.1L250.3,197.3L252.4,198.7L250.3,201.6L246,203.7L241.7,204.4L237.4,205.1L234.5,208L230.2,206.6L227.3,203.7Z"/>
<path fill="#1aabfa" d="M240.3,187.9L244.6,185.8L250.3,185.1L256,186.5L261.8,186.2L256,188.7L253.9,190.8L250.3,192.2L247.4,194.4L243.8,193L241,190.8Z"/>
<path fill="#1aabfa" d="M194.4,177.9L203,176.5L205.8,178.6L213,178.6L219.5,180.1L217.3,182.2L210.1,182.5L204.4,182.9L200.1,180.8Z"/>
<path fill="#1aabfa" d="M225.2,179.3L230.2,178.2L233.8,179.3L231.6,181.5L227.3,181.5Z"/>
<path fill="#1aabfa" d="M217.3,195.1L222.3,194.4L224.5,195.8L221.6,197.7L218,197.3Z"/>
<path fill="#ffffff" d="M257.5,198.3L260.3,197.4L261.5,198.8L258.9,200.3L257.2,199.7Z"/>
<path fill="#1aabfa" d="M236.2,211.2L239.5,210.2L241,211.2L238.1,212.6Z"/>
<path fill="none" d="M525.7,333.9L528.7,340.9"/>
<path fill="none" d="M531.9,325.1L533.2,329.2L531,333L525.7,333.9"/>
<path fill="none" d="M503.6,339.6L502.7,348.1L505,352.2"/>
<path fill="none" d="M496.2,281.5L494.9,285.9L490.7,290.8L488.5,291.8L485.6,292.3L482.6,292.5"/>
<path fill="none" d="M490.7,290.8L491.5,294.7L490.5,296.5"/>
<path fill="none" d="M509.1,305L510.3,302.7L512.1,302.4"/>
<path fill="#1aabfa" d="M120.7,235.2L123.5,234L124.1,235.2L121.2,236.3Z"/>
<path fill="#1aabfa" d="M124.1,229.4L126,228L126.4,230.9L124.7,231.6Z"/>
<path fill="none" d="M725.3,261.1L726.6,260.1"/>
<path fill="none" d="M727.5,259.4L729.2,258.1"/>
<path fill="none" d="M494.6,268.1L498.2,269.3L501.2,269.9L503,271.1L506.6,269.9L508.4,269.3"/>
</g><!--/MAP-->
</svg>

<div class="ft" id="f1" style="top:557.5px">Sources: Government data compiled by Bloomberg; updated April 22, 2020</div>
<div class="ft" id="f2" style="top:581.5px">Note: Totals based on government plans and exclude direct central bank funding.</div>
<div class="ft" id="f3" style="top:605.5px">Bank guarantees and loan relief were considered in addition to direct aid.</div>
<div class="ft" id="f4" style="top:629px">Countries not shaded haven't announced figures, or totals couldn't be verified.</div>
</body></html>
